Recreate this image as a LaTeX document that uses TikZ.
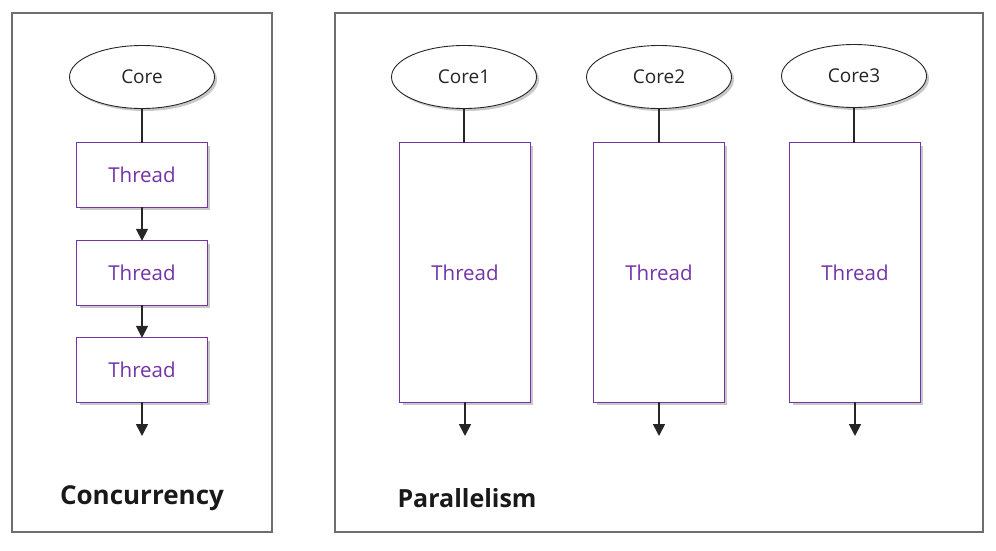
\documentclass[tikz,border=0pt]{standalone}
\usepackage{fontspec}
\setmainfont{Open Sans}
\usetikzlibrary{arrows.meta,shapes.geometric,backgrounds}
\definecolor{thrcol}{HTML}{7434A8}
\definecolor{panelcol}{HTML}{6E6E6E}
\definecolor{shadecol}{HTML}{C8C8C8}
\begin{document}
\begin{tikzpicture}[x=1pt,y=-1pt,
  panel/.style={draw=panelcol, line width=1.5pt},
  core/.style={ellipse, draw=black!85, line width=0.9pt, fill=white,
    minimum width=145pt, minimum height=63pt, inner sep=0pt,
    font=\fontsize{19}{22}\selectfont, text=black!85},
  thrbox/.style={rectangle, fill=white,
    text=thrcol, inner sep=0pt, minimum width=130pt,
    font=\fontsize{20.5}{23}\selectfont},
  thrborder/.style={draw=thrcol, line width=0.9pt},
  boxshade/.style={fill=shadecol, draw=none},
  link/.style={line width=1.7pt, draw=black!85},
  flow/.style={link, -{Triangle[width=12pt,length=12pt]}},
  caption/.style={font=\fontsize{26}{29}\selectfont\bfseries, text=black!90}]
\useasboundingbox (0,0) rectangle (996,550);
% panels
\draw[panel] (12,13) rectangle (272,532);
\draw[panel] (335,13) rectangle (983,532);
% concurrency
\node[core] (c0) at (142,77) {Core};
\node[thrbox, minimum height=64pt] (t1) at (142,175) {Thread};
\node[thrbox, minimum height=64pt] (t2) at (142,273) {Thread};
\node[thrbox, minimum height=64pt] (t3) at (142,370) {Thread};
\coordinate (e0) at (142,436);
\node[caption] (lc) at (142,498) {Concurrency};
% parallelism
\node[core] (c1) at (464,77) {Core1};
\node[core] (c2) at (659,77) {Core2};
\node[core] (c3) at (854,76) {Core3};
\node[thrbox, minimum height=259pt] (p1) at (465,272.5) {Thread};
\node[thrbox, minimum height=259pt] (p2) at (659,272.5) {Thread};
\node[thrbox, minimum height=259pt] (p3) at (855,272.5) {Thread};
\coordinate (e1) at (465,436);
\coordinate (e2) at (659,436);
\coordinate (e3) at (855,436);
\node[caption, anchor=west] (lp) at (394,498) {\fontsize{25}{28}\selectfont Parallelism};
% box borders
\foreach \n in {t1,t2,t3,p1,p2,p3}
  \draw[thrborder] (\n.north west) rectangle (\n.south east);
% connectors
\draw[link] (c0.south) -- (t1.north);
\draw[flow] (t1.south) -- (t2.north);
\draw[flow] (t2.south) -- (t3.north);
\draw[flow] (t3.south) -- (e0);
\draw[link] (c1) -- (c1 |- p1.north);
\draw[link] (c2) -- (c2 |- p2.north);
\draw[link] (c3) -- (c3 |- p3.north);
\draw[flow] (p1.south) -- (e1);
\draw[flow] (p2.south) -- (e2);
\draw[flow] (p3.south) -- (e3);
% shadows
\begin{scope}[on background layer]
  \foreach \n in {t1,t2,t3,p1,p2,p3}
    \fill[boxshade] ([shift={(3,3)}]\n.north west) rectangle ([shift={(3,3)}]\n.south east);
  \foreach \n in {c0,c1,c2,c3}
    \fill[boxshade] ([shift={(2.5,2.5)}]\n.center) ellipse [x radius=72.5, y radius=31.5];
\end{scope}
\end{tikzpicture}
\end{document}
